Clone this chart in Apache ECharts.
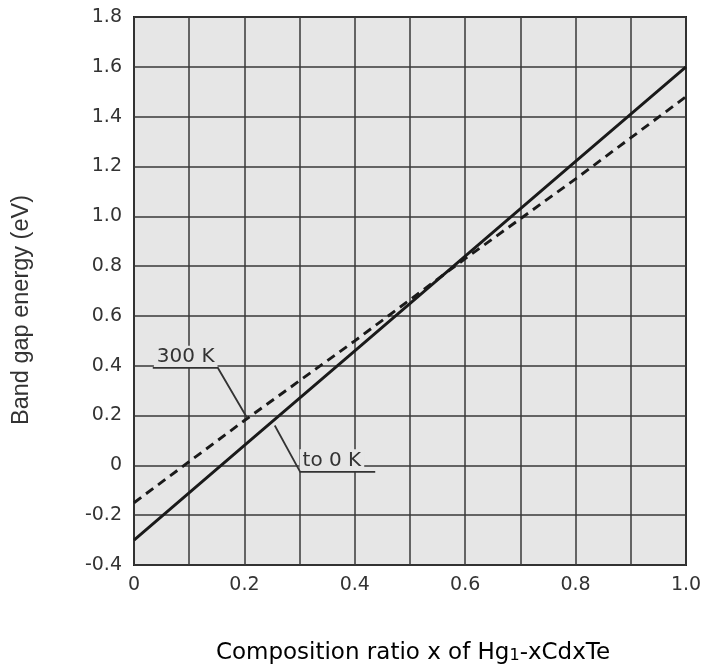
<!DOCTYPE html>
<html>
<head>
<meta charset="utf-8">
<script src="https://cdn.jsdelivr.net/npm/echarts@6/dist/echarts.min.js"></script>
<style>
  html, body { margin: 0; padding: 0; background: #fff; }
  #chart { width: 709px; height: 671px; }
</style>
</head>
<body>
<div id="chart"></div>
<script>
// composition ratio x and band gap energy (eV)
const xValues = [0, 0.2, 0.4, 0.6, 0.8, 1.0];
const gap0K = [-0.30, 0.08, 0.46, 0.84, 1.22, 1.60];
const gap300K = [-0.15, 0.18, 0.50, 0.83, 1.15, 1.48];

// callout anchors in data units: [start, elbow, tip]
const callout300 = [[0.034, 0.391], [0.152, 0.391], [0.205, 0.19]];
const callout0 = [[0.437, -0.026], [0.301, -0.026], [0.255, 0.16]];

const plotBg = '#e6e6e6';
const font = 'DejaVu Sans';

const chartDom = document.getElementById('chart');
const myChart = echarts.init(chartDom);

const toPairs = (ys) => xValues.map((x, i) => [x, ys[i]]);

const option = {
  animation: false,
  grid: {
    left: 134,
    right: 23,
    top: 17,
    bottom: 106,
    show: true,
    backgroundColor: plotBg,
    borderColor: '#222',
    borderWidth: 2,
  },
  xAxis: {
    type: 'value',
    min: 0,
    max: 1,
    interval: 0.1,
    axisLine: { show: false },
    axisTick: { show: false },
    splitLine: { lineStyle: { color: '#383838', width: 1.5 } },
    axisLabel: {
      margin: 11,
      color: '#333',
      fontFamily: font,
      fontSize: 19,
      formatter: (v) => {
        const k = Math.round(v * 10);
        if (k % 2 !== 0) return '';
        return k === 0 ? '0' : (k / 10).toFixed(1);
      },
    },
  },
  yAxis: {
    type: 'value',
    min: -0.4,
    max: 1.8,
    interval: 0.2,
    axisLine: { show: false },
    axisTick: { show: false },
    splitLine: { lineStyle: { color: '#383838', width: 1.5 } },
    axisLabel: {
      margin: 12,
      color: '#333',
      fontFamily: font,
      fontSize: 19,
      formatter: (v) => (Math.abs(v) < 1e-9 ? '0' : v.toFixed(1)),
    },
  },
  series: [
    {
      name: 'to 0 K',
      type: 'line',
      data: toPairs(gap0K),
      showSymbol: false,
      lineStyle: { color: '#1a1a1a', width: 2.9 },
      z: 3,
    },
    {
      name: '300 K',
      type: 'line',
      data: toPairs(gap300K),
      showSymbol: false,
      lineStyle: { color: '#1a1a1a', width: 2.9, type: [9, 6] },
      z: 3,
    },
  ],
};
myChart.setOption(option);

const px = (p) => myChart.convertToPixel({ gridIndex: 0 }, p);

function callout(points, text, labelAt) {
  const pts = points.map(px);
  const lab = px(labelAt);
  return [
    {
      type: 'text',
      z: 10,
      style: {
        x: lab[0],
        y: lab[1],
        text: text,
        fontFamily: font,
        fontSize: 20,
        fill: '#333',
        align: 'left',
        verticalAlign: 'bottom',
        backgroundColor: plotBg,
        padding: [1, 3, 1, 3],
      },
    },
    {
      type: 'polyline',
      z: 11,
      shape: { points: pts },
      style: { stroke: '#333', lineWidth: 1.8, fill: null },
    },
  ];
}

myChart.setOption({
  graphic: [
    ...callout(callout300, '300 K', [0.036, 0.392]),
    ...callout(callout0, 'to 0 K', [0.3, -0.024]),
    {
      type: 'text',
      x: 22,
      y: 310,
      rotation: Math.PI / 2,
      style: {
        text: 'Band gap energy (eV)',
        fontFamily: 'Liberation Sans',
        fontSize: 23.5,
        fill: '#333',
        align: 'center',
        verticalAlign: 'middle',
      },
    },
    {
      type: 'text',
      x: 413,
      y: 653,
      style: {
        text: '{a|Composition ratio x of Hg}{s|1}{a|-xCdxTe}',
        align: 'center',
        verticalAlign: 'middle',
        rich: {
          a: { fontFamily: font, fontSize: 23, color: '#333' },
          s: { fontFamily: font, fontSize: 16, color: '#333', padding: [5, 0, 0, 0] },
        },
      },
    },
  ],
});
</script>
</body>
</html>
